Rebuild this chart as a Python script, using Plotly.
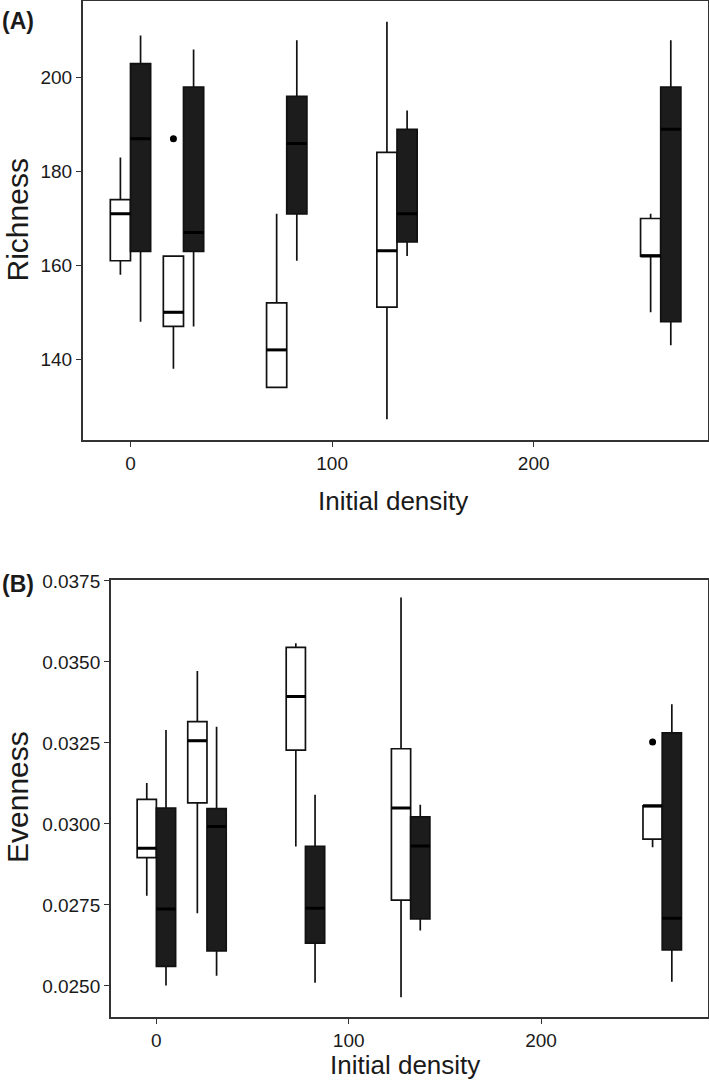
import plotly.graph_objects as go

# ---------------- data ----------------
density = [0, 26.3, 77.5, 132.2, 263.0]
x_ticks = [0, 100, 200]

# Panel A: Richness (white = first treatment, dark = second treatment)
rich_white_low = [158, 138, 134, 127.2, 150]
rich_white_q1 = [161, 147, 134, 151.1, 162]
rich_white_med = [171, 150, 142, 163.1, 162]
rich_white_q3 = [174, 162, 152, 184.1, 170]
rich_white_high = [183, 162, 171, 211.9, 171]
rich_dark_low = [148, 147, 161, 162, 143]
rich_dark_q1 = [163, 163, 171, 165, 148]
rich_dark_med = [187, 167, 186, 171, 189]
rich_dark_q3 = [203, 198, 196, 189, 198]
rich_dark_high = [209, 206, 208, 193, 208]
rich_out_group = [1]
rich_out_val = [187]
rich_ticks = [140, 160, 180, 200]

# Panel B: Evenness
even_white_low = [0.02778, 0.02724, 0.02930, 0.02465, 0.02928]
even_white_q1 = [0.02896, 0.03065, 0.03228, 0.02765, 0.02953]
even_white_med = [0.02925, 0.03257, 0.03393, 0.03049, 0.03056]
even_white_q3 = [0.03076, 0.03316, 0.03545, 0.03232, 0.03056]
even_white_high = [0.03126, 0.03472, 0.03558, 0.03699, 0.03056]
even_dark_low = [0.02501, 0.02531, 0.02510, 0.02671, 0.02513]
even_dark_q1 = [0.02560, 0.02608, 0.02632, 0.02707, 0.02611]
even_dark_med = [0.02737, 0.02992, 0.02740, 0.02932, 0.02709]
even_dark_q3 = [0.03049, 0.03047, 0.02931, 0.03022, 0.03281]
even_dark_high = [0.03290, 0.03300, 0.03090, 0.03059, 0.03369]
even_out_group = [4]
even_out_val = [0.03253]
even_ticks = [0.0250, 0.0275, 0.0300, 0.0325, 0.0350, 0.0375]

# ---------------- style ----------------
W, H = 709, 1085
DODGE = 5.0
BOXW = 10.0
FONT = "Liberation Sans, Arial, sans-serif"
DARK = "#1c1c1c"
LINE = "#111111"
AX = "#333333"

fig = go.Figure()


def median_segments(offset, med):
    xs, ys = [], []
    for d, m in zip(density, med):
        c = d + offset
        xs += [c - BOXW / 2, c + BOXW / 2, None]
        ys += [m, m, None]
    return xs, ys


def add_panel(xa, ya, white, dark, out_group, out_val):
    for off, (lo, q1, md, q3, hi), fill in ((-DODGE, white, "white"),
                                            (DODGE, dark, DARK)):
        fig.add_trace(go.Box(
            x=[d + off for d in density], lowerfence=lo, q1=q1, median=md,
            q3=q3, upperfence=hi, width=BOXW, fillcolor=fill,
            line=dict(color=LINE, width=1.7), whiskerwidth=0, boxpoints=False,
            xaxis=xa, yaxis=ya, showlegend=False))
        mx, my = median_segments(off, md)
        fig.add_trace(go.Scatter(
            x=mx, y=my, mode="lines", line=dict(color="black", width=3),
            xaxis=xa, yaxis=ya, showlegend=False, hoverinfo="skip"))
    fig.add_trace(go.Scatter(
        x=[density[g] - DODGE for g in out_group], y=out_val, mode="markers",
        marker=dict(color="black", size=7), xaxis=xa, yaxis=ya,
        showlegend=False, hoverinfo="skip"))


add_panel("x", "y",
          (rich_white_low, rich_white_q1, rich_white_med, rich_white_q3, rich_white_high),
          (rich_dark_low, rich_dark_q1, rich_dark_med, rich_dark_q3, rich_dark_high),
          rich_out_group, rich_out_val)
add_panel("x2", "y2",
          (even_white_low, even_white_q1, even_white_med, even_white_q3, even_white_high),
          (even_dark_low, even_dark_q1, even_dark_med, even_dark_q3, even_dark_high),
          even_out_group, even_out_val)

common = dict(showline=True, mirror=True, linecolor=AX, linewidth=1.5,
              ticks="outside", ticklen=5, tickwidth=1.2, tickcolor=AX,
              showgrid=False, zeroline=False, automargin=False,
              tickfont=dict(family=FONT, size=19, color="#1a1a1a"))

X_RANGE = [-23.7, 286.6]

fig.update_layout(
    width=W, height=H, margin=dict(l=0, r=0, t=0, b=0, autoexpand=False),
    paper_bgcolor="white", plot_bgcolor="white",
    boxmode="overlay", boxgap=0, boxgroupgap=0,
    xaxis=dict(domain=[82.7 / W, 708.3 / W], anchor="y", range=X_RANGE,
               tickvals=x_ticks, **common),
    yaxis=dict(domain=[(H - 440) / H, (H - 1.2) / H], anchor="x",
               range=[122.8, 216.3], tickvals=rich_ticks, **common),
    xaxis2=dict(domain=[110.8 / W, 707.6 / W], anchor="y2", range=X_RANGE,
                tickvals=x_ticks, **common),
    yaxis2=dict(domain=[(H - 1017.3) / H, (H - 580.3) / H], anchor="x2",
                range=[0.02403, 0.03752], tickvals=even_ticks,
                tickformat=".4f", **common),
)


def ann(text, x, y, size, angle=0, bold=False):
    fig.add_annotation(
        text=f"<b>{text}</b>" if bold else text, xref="paper", yref="paper",
        x=x / W, y=(H - y) / H, xanchor="center", yanchor="middle",
        textangle=angle, showarrow=False,
        font=dict(family=FONT, size=size, color="#1a1a1a"))


ann("(A)", 18, 21, 23, bold=True)
ann("(B)", 18, 583.5, 23, bold=True)
ann("Richness", 16.5, 220, 30, angle=-90)
ann("Evenness", 17, 797, 30, angle=-90)
ann("Initial density", 393, 501, 26)
ann("Initial density", 405, 1065, 26)

fig.write_html(
    "out.html",
    config={"displayModeBar": False},
    post_script="document.body.style.margin='0';document.body.style.overflow='hidden';",
)
